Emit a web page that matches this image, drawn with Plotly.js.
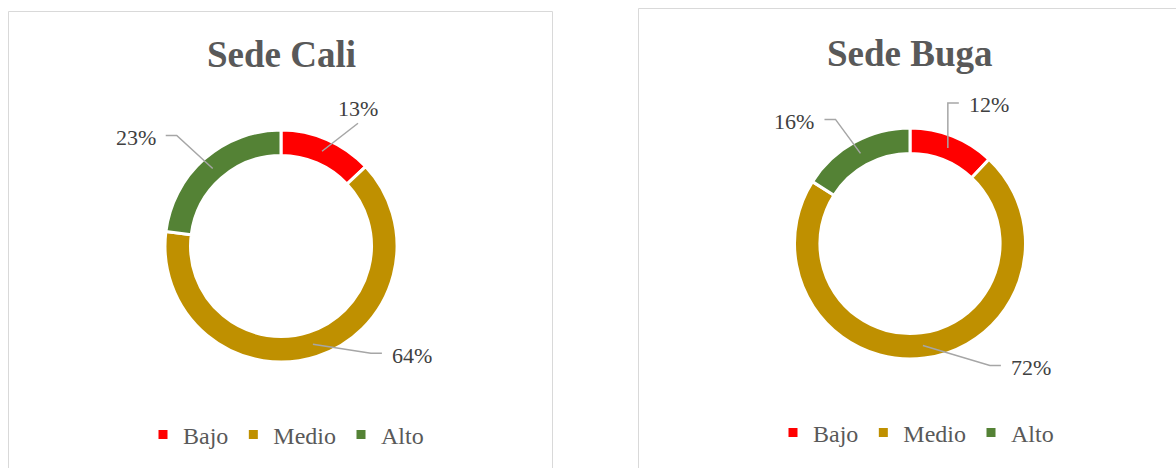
<!DOCTYPE html>
<html>
<head>
<meta charset="utf-8">
<script src="https://cdn.plot.ly/plotly-3.0.1.min.js"></script>
<style>
  html, body { margin: 0; padding: 0; background: #ffffff; overflow: hidden; }
  #wrap { position: relative; width: 1176px; height: 468px; }
  .panel { position: absolute; top: 0; height: 468px; }
</style>
</head>
<body>
<div id="wrap">
  <div id="chartCali" class="panel" style="left:0px;width:596px;"></div>
  <div id="chartBuga" class="panel" style="left:596px;width:580px;"></div>
</div>
<script>
// ---- data ----
const categories = ['Bajo', 'Medio', 'Alto'];
const caliValues = [13, 64, 23];
const bugaValues = [12, 72, 16];
const chartTitles = ['Sede Cali', 'Sede Buga'];
const sliceColors = ['#FF0000', '#BF9000', '#548235'];

// ---- layout (page pixel positions) ----
const H = 468;
const HOLE = 0.78;
const FONT = 'Liberation Serif, Times New Roman, serif';
const panels = [
  { div: 'chartCali', left: 0, width: 596,
    values: caliValues, title: chartTitles[0], cx: 281, cy: 246, r: 116,
    titleY: 54, legendX: 286, legendY: 435,
    box: [8.5, 11.5, 552.5, 520],
    labelOffsets: [[36, -43], [99, 11], [-77, -31]],
    leaderTypes: ['v', 'h', 'h'] },
  { div: 'chartBuga', left: 596, width: 580,
    values: bugaValues, title: chartTitles[1], cx: 910, cy: 243.5, r: 115.5,
    titleY: 53, legendX: 916, legendY: 433,
    box: [638.5, 8.5, 1300, 520],
    labelOffsets: [[41, -43], [108, 22], [-66, -32]],
    leaderTypes: ['hv', 'h', 'h'] }
];

panels.forEach(p => {
  const W = p.width;
  const X = px => (px - p.left) / W;
  const Y = py => 1 - py / H;
  const shapes = [];
  const annotations = [];

  shapes.push({
    type: 'rect', xref: 'paper', yref: 'paper', layer: 'below',
    x0: X(p.box[0]), x1: X(p.box[2]), y0: Y(p.box[3]), y1: Y(p.box[1]),
    line: { color: '#d9d9d9', width: 1 }, fillcolor: 'rgba(0,0,0,0)'
  });

  const trace = {
    type: 'pie',
    labels: categories,
    values: p.values,
    hole: HOLE,
    sort: false,
    direction: 'clockwise',
    rotation: 0,
    textinfo: 'none',
    hoverinfo: 'label+percent',
    automargin: false,
    marker: { colors: sliceColors, line: { color: '#ffffff', width: 3 } },
    domain: {
      x: [X(p.cx - p.r), X(p.cx + p.r)],
      y: [Y(p.cy + p.r), Y(p.cy - p.r)]
    }
  };

  annotations.push({
    xref: 'paper', yref: 'paper', x: X(p.cx), y: Y(p.titleY),
    xanchor: 'center', yanchor: 'middle', showarrow: false,
    text: '<b>' + p.title + '</b>',
    font: { family: FONT, size: 37, color: '#595959' }
  });

  const total = p.values.reduce((a, b) => a + b, 0);
  const rm = p.r * (1 + HOLE) / 2;
  const halfW = 20, gap = 10, elbow = 11;
  let cum = 0;
  p.values.forEach((v, i) => {
    const theta = (cum + v / 2) / total * 2 * Math.PI;
    cum += v;
    const ax = p.cx + rm * Math.sin(theta);
    const ay = p.cy - rm * Math.cos(theta);
    const tx = ax + p.labelOffsets[i][0];
    const ty = ay + p.labelOffsets[i][1];
    annotations.push({
      xref: 'paper', yref: 'paper', x: X(tx), y: Y(ty),
      xanchor: 'center', yanchor: 'middle', showarrow: false,
      text: Math.round(v / total * 100) + '%',
      font: { family: FONT, size: 22, color: '#404040' }
    });
    let pts;
    const type = p.leaderTypes[i];
    if (type === 'v') {
      pts = [[ax, ay], [tx, ty + 15]];
    } else if (type === 'hv') {
      const ex = tx < ax ? tx + halfW + gap : tx - halfW - gap;
      const ey = ty - 2;
      pts = [[ax, ay], [ax, ey], [ex, ey]];
    } else {
      const right = tx > ax;
      const ex = right ? tx - halfW - gap : tx + halfW + gap;
      const ey = ty - 2;
      const elx = right ? ex - elbow : ex + elbow;
      pts = [[ax, ay], [elx, ey], [ex, ey]];
    }
    shapes.push({
      type: 'path', xref: 'paper', yref: 'paper',
      path: pts.map((q, j) => (j === 0 ? 'M' : 'L') + X(q[0]) + ',' + Y(q[1])).join(' '),
      line: { color: '#a6a6a6', width: 1.5 }, fillcolor: 'rgba(0,0,0,0)'
    });
  });

  const layout = {
    width: W, height: H,
    margin: { l: 0, r: 0, t: 0, b: 0 },
    paper_bgcolor: 'rgba(0,0,0,0)',
    plot_bgcolor: 'rgba(0,0,0,0)',
    showlegend: true,
    font: { family: FONT, color: '#595959' },
    legend: {
      orientation: 'h',
      x: X(p.legendX), xanchor: 'center',
      y: Y(p.legendY), yanchor: 'middle',
      bgcolor: 'rgba(0,0,0,0)',
      font: { family: FONT, size: 24, color: '#595959' },
      itemwidth: 30,
      traceorder: 'normal'
    },
    shapes: shapes,
    annotations: annotations
  };

  Plotly.newPlot(p.div, [trace], layout, { displayModeBar: false, staticPlot: true });
});
</script>
</body>
</html>
